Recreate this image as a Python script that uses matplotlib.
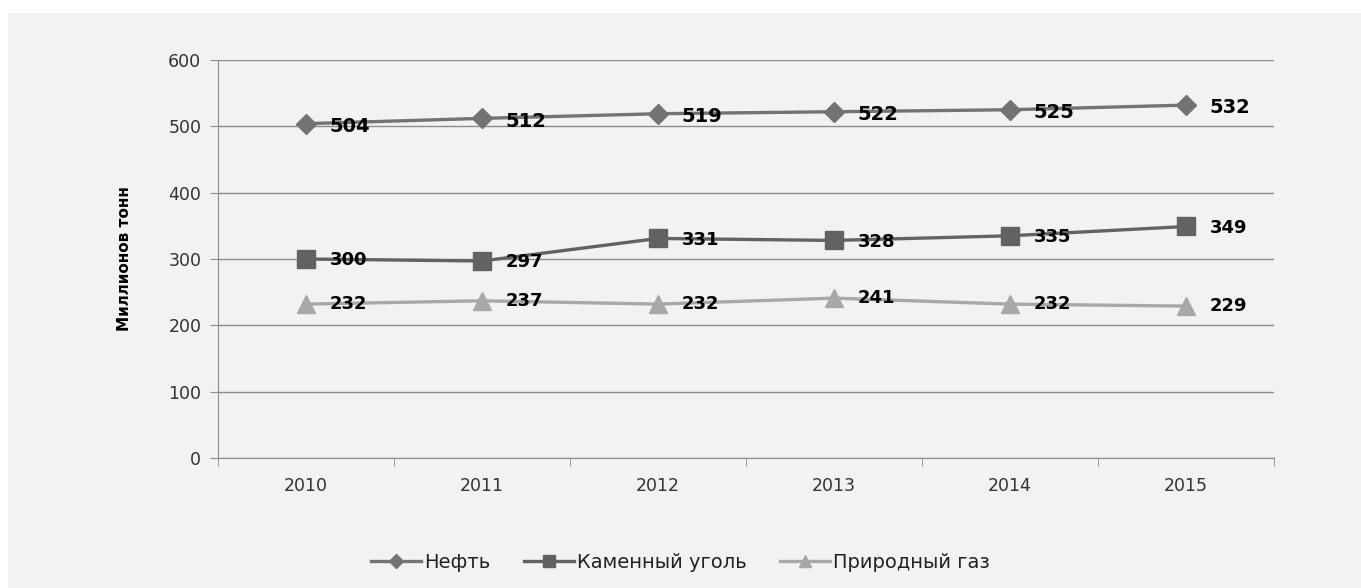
import matplotlib.pyplot as plt
from matplotlib.patches import Rectangle

years = ['2010', '2011', '2012', '2013', '2014', '2015']
oil = [504, 512, 519, 522, 525, 532]
coal = [300, 297, 331, 328, 335, 349]
gas = [232, 237, 232, 241, 232, 229]

fig = plt.figure(figsize=(13.61, 5.88), dpi=100)
fig.patch.set_facecolor('white')
# серая подложка диаграммы
fig.patches.append(Rectangle((8 / 1361, 0), 1 - 8 / 1361, 1 - 13 / 588,
                             transform=fig.transFigure, facecolor='#f2f2f2',
                             edgecolor='none', zorder=-10))

ax = fig.add_axes([218 / 1361, 1 - 458 / 588, (1274 - 218) / 1361, (458 - 60) / 588])
ax.set_facecolor('#f2f2f2')

x = list(range(len(years)))
ax.plot(x, oil, color='#737373', lw=2.4, marker='D', ms=10, label='Нефть', zorder=3)
ax.plot(x, coal, color='#626262', lw=2.4, marker='s', ms=13, label='Каменный уголь', zorder=3)
ax.plot(x, gas, color='#a8a8a8', lw=2.4, marker='^', ms=13, label='Природный газ', zorder=3)

for i in x:
    ax.annotate(str(oil[i]), (i, oil[i]), xytext=(17, -2), textcoords='offset points',
                ha='left', va='center', fontsize=14, fontweight='bold', color='black', zorder=4)
    ax.annotate(str(coal[i]), (i, coal[i]), xytext=(17, -1), textcoords='offset points',
                ha='left', va='center', fontsize=13, fontweight='bold', color='black', zorder=4)
    ax.annotate(str(gas[i]), (i, gas[i]), xytext=(17, 0), textcoords='offset points',
                ha='left', va='center', fontsize=13, fontweight='bold', color='black', zorder=4)

ax.set_xlim(-0.5, 5.5)
ax.set_ylim(0, 600)
ax.set_yticks(range(0, 601, 100))
ax.yaxis.grid(True, color='#8c8c8c', lw=1)
ax.set_axisbelow(True)

ax.set_xticks(x)
ax.set_xticklabels(years)
ax.set_xticks([i - 0.5 for i in range(7)], minor=True)
ax.tick_params(axis='x', which='major', length=0, pad=14, labelsize=12.5, colors='#333333')
ax.tick_params(axis='x', which='minor', length=6, color='#8c8c8c')
ax.tick_params(axis='y', length=6, color='#8c8c8c', labelsize=12.5, labelcolor='#333333', pad=6)

for s in ['top', 'right']:
    ax.spines[s].set_visible(False)
for s in ['left', 'bottom']:
    ax.spines[s].set_color('#8c8c8c')

ax.set_ylabel('Миллионов тонн', fontsize=11, fontweight='bold', labelpad=26)

fig.legend(loc='center', bbox_to_anchor=(0.5, 1 - 562 / 588), ncol=3, frameon=False,
           fontsize=14, handlelength=2.6, columnspacing=1.7, handletextpad=0.15,
           markerscale=0.7, labelcolor='#222222')

fig.savefig('out.png', dpi=100, facecolor=fig.get_facecolor())
